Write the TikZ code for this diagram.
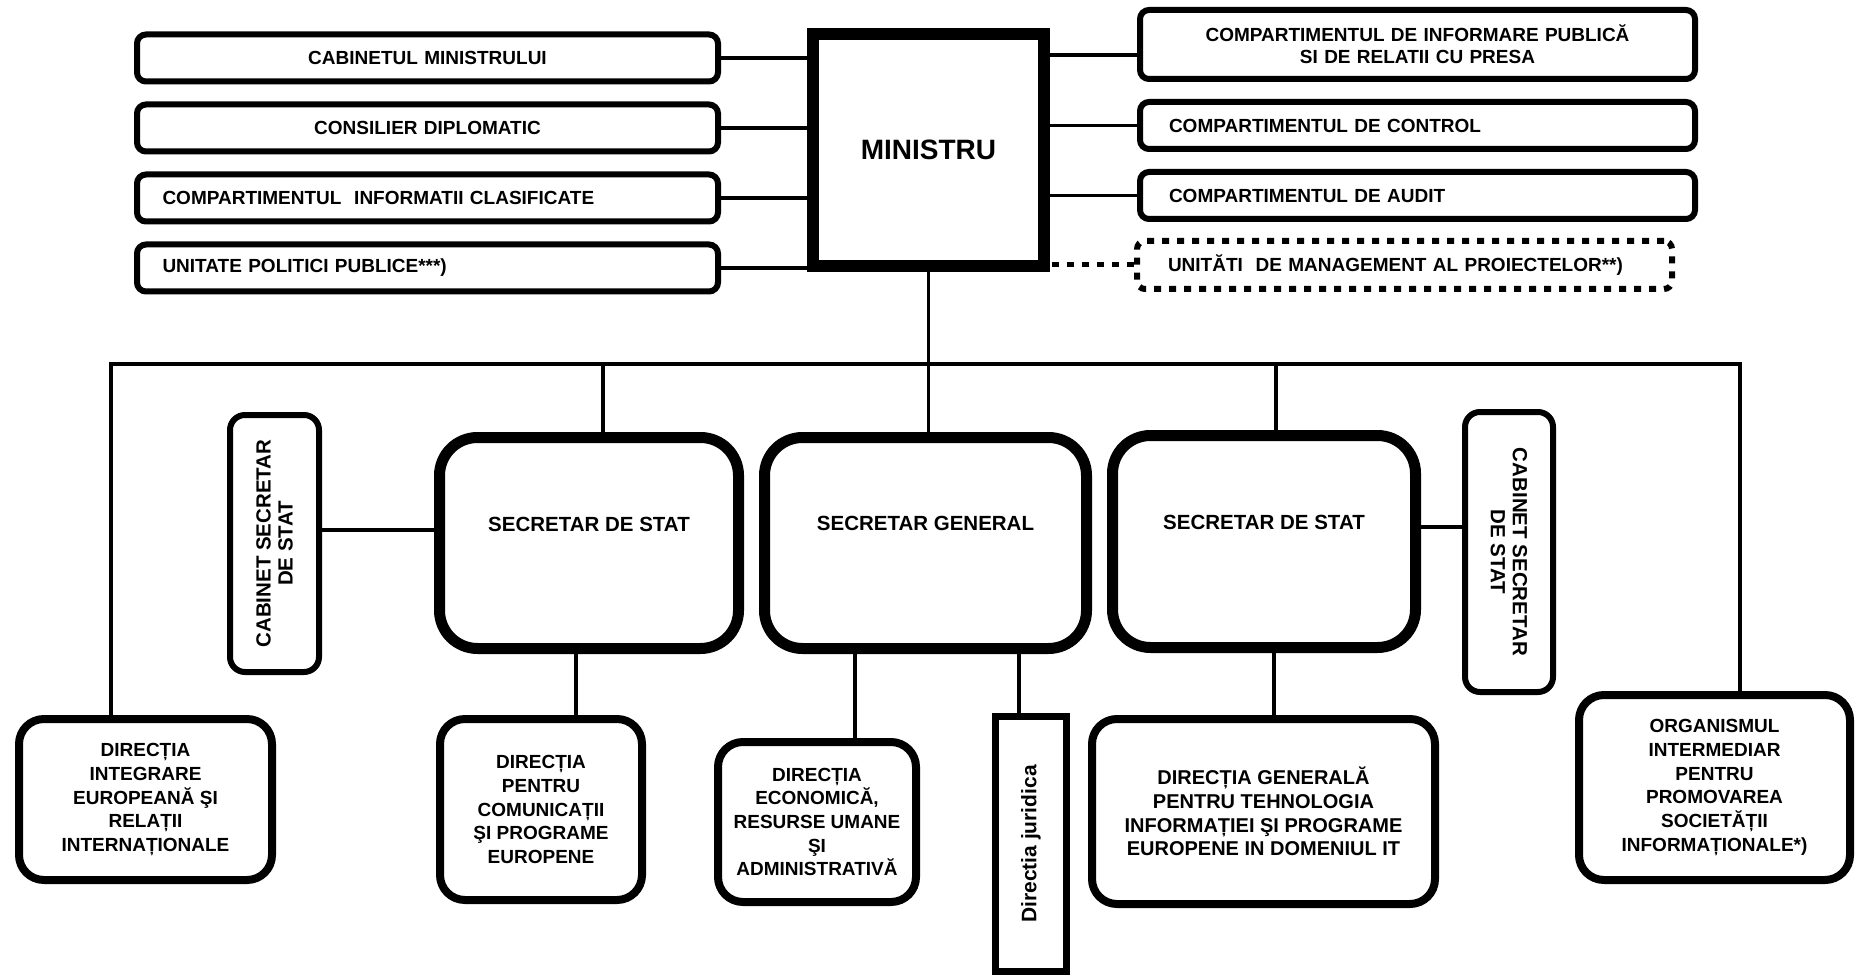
\documentclass[tikz,border=0pt]{standalone}
\usepackage{fontspec}
\setmainfont{Liberation Sans}
\usetikzlibrary{positioning}
\usetikzlibrary{calc}

\begin{document}
\begin{tikzpicture}[x=1pt,y=-1pt,node distance=70pt,
                    font=\fontsize{19}{22}\selectfont\bfseries,
                    conn/.style={line width=3.5pt},
                    main node/.style={draw,line width=12pt,minimum width=231pt,minimum height=232pt,
                                      font=\fontsize{28}{32}\selectfont\bfseries},
                    top box/.style={draw,line width=6pt,rounded corners=9pt,inner sep=0pt,
                                    minimum width=581pt,minimum height=47pt,text width=530pt},
                    dot box/.style={draw,line width=6pt,rounded corners=8pt,inner sep=0pt,
                                    dash pattern=on 7pt off 8pt},
                    chief box/.style={draw,line width=11pt,rounded corners=38pt,minimum height=211pt},
                    chief label/.style={font=\fontsize{20.5}{24}\selectfont\bfseries},
                    side box/.style={draw,line width=6pt,rounded corners=15pt},
                    side label/.style={align=center,font=\fontsize{20.5}{22}\selectfont\bfseries},
                    dept box/.style={draw,line width=8pt,rounded corners=25pt,align=center,
                                     font=\fontsize{19}{23.7}\selectfont\bfseries}]
\useasboundingbox (0,0) rectangle (1856,976);

% ministru
\node[main node] (1) at (928.5,150) {MINISTRU};

% stanga
\node[top box,align=center] (2) at (427.5,58) {CABINETUL MINISTRULUI};
\node[top box,align=center] (3) [below of=2] {CONSILIER DIPLOMATIC};
\node[top box,align=left] (4) [below of=3] {COMPARTIMENTUL\ \ INFORMATII CLASIFICATE};
\node[top box,align=left] (5) [below of=4] {UNITATE POLITICI PUBLICE***)};

% dreapta
\node[top box,minimum width=555pt,minimum height=69pt,text width=497pt,align=center] (6) at (1417.5,44.5)
  {COMPARTIMENTUL DE INFORMARE PUBLICĂ\\SI DE RELATII CU PRESA};
\node[top box,minimum width=555pt,text width=497pt,align=left] (7) at (1417.5,125.5) {COMPARTIMENTUL DE CONTROL};
\node[top box,minimum width=555pt,text width=497pt,align=left] (8) [below of=7] {COMPARTIMENTUL DE AUDIT};
\node[dot box,minimum width=535pt,minimum height=48pt,text width=473pt,align=left] (9) at (1404.5,265)
  {UNITĂTI\ \ DE MANAGEMENT AL PROIECTELOR**)};

\path[conn]
  (2) edge (2 -| 1.west)
  (3) edge (3 -| 1.west)
  (4) edge (4 -| 1.west)
  (5) edge (5 -| 1.west)
  (7) edge (7 -| 1.east)
  (8) edge (8 -| 1.east);
\draw[conn] ([yshift=-10.5pt]6.west) -- ([yshift=-10.5pt]6.west -| 1.east);
\draw[conn,line width=5pt,dash pattern=on 7pt off 8pt] (9) -- (9 -| 1.east);

% secretari
\node[chief box,minimum width=299pt,label={[chief label,yshift=19pt]center:SECRETAR DE STAT}] (10) at (589,543) {};
\node[chief box,minimum width=322pt,label={[chief label,yshift=20pt]center:SECRETAR GENERAL}] (11) at (925.5,543) {};
\node[chief box,minimum width=303pt,minimum height=212pt,label={[chief label,yshift=19.5pt]center:SECRETAR DE STAT}] (12) at (1264,541.5) {};
\node[side box,minimum width=89pt,minimum height=257pt,label={[side label,rotate=90]center:CABINET SECRETAR\\DE STAT}] (13) at (274.5,543.5) {};
\node[side box,minimum width=88pt,minimum height=280pt,label={[side label,rotate=-90]center:CABINET SECRETAR\\DE STAT}] (14) at (1509,552) {};

% directii
\node[dept box,minimum width=253pt,minimum height=161pt] (15) at (145.5,799.5)
  {DIRECȚIA\\INTEGRARE\\EUROPEANĂ ŞI\\RELAȚII\\INTERNAȚIONALE};
\node[dept box,minimum width=202pt,minimum height=181pt] (16) at (541,809.5)
  {DIRECȚIA\\PENTRU\\COMUNICAȚII\\ŞI PROGRAME\\EUROPENE};
\node[dept box,minimum width=198pt,minimum height=160pt] (17) at (817,822)
  {DIRECȚIA\\ECONOMICĂ,\\RESURSE UMANE\\ŞI\\ADMINISTRATIVĂ};
\node[draw,line width=7pt,minimum width=71pt,minimum height=255.5pt,
      label={[rotate=90,font=\fontsize{21}{24}\selectfont\bfseries]center:Directia juridica}] (18) at (1031,844) {};
\node[dept box,minimum width=343pt,minimum height=185pt,font=\fontsize{20}{23.7}\selectfont\bfseries] (19) at (1263.5,811.5)
  {DIRECȚIA GENERALĂ\\PENTRU TEHNOLOGIA\\INFORMAȚIEI ŞI PROGRAME\\EUROPENE IN DOMENIUL IT};
\node[dept box,minimum width=271pt,minimum height=185pt] (20) at (1714.5,787.5)
  {ORGANISMUL\\INTERMEDIAR\\PENTRU\\PROMOVAREA\\SOCIETĂȚII\\INFORMAȚIONALE*)};

% magistrala
\coordinate (bus) at (928.5,364);
\draw[conn] (1) -- (1 |- 11.north);
\draw[conn] ([xshift=-34.5pt]15.north) |- (bus) -| ([xshift=25.5pt]20.north);
\draw[conn] ([xshift=14pt]10.north) -- ([xshift=14pt]10.north |- bus);
\draw[conn] ([xshift=12pt]12.north) -- ([xshift=12pt]12.north |- bus);

\draw[conn] ([yshift=13pt]10.west) -- ([yshift=13pt]10.west -| 13.east);
\draw[conn] ([yshift=14.5pt]12.east) -- ([yshift=14.5pt]12.east -| 14.west);

\draw[conn] ([xshift=-13pt]10.south) -- ([xshift=-13pt]10.south |- 16.north);
\draw[conn] ([xshift=-70.5pt]11.south) -- ([xshift=-70.5pt]11.south |- 17.north);
\draw[conn] ([xshift=93.5pt]11.south) -- ([xshift=93.5pt]11.south |- 18.north);
\draw[conn] ([xshift=10pt]12.south) -- ([xshift=10pt]12.south |- 19.north);
\end{tikzpicture}
\end{document}
